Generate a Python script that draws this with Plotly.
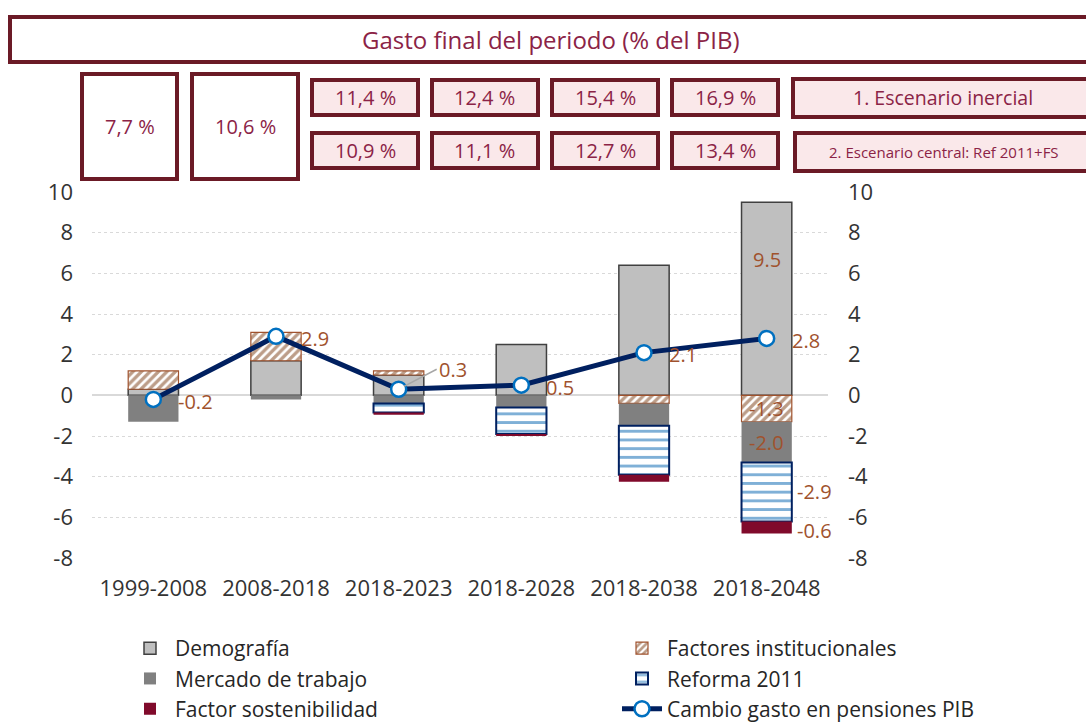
import plotly.graph_objects as go

# ---------------- data ----------------
categories = ["1999-2008", "2008-2018", "2018-2023", "2018-2028", "2018-2038", "2018-2048"]
demografia = [0.3, 1.7, 1.0, 2.5, 6.4, 9.5]
factores_inst = [0.9, 1.4, 0.2, None, -0.4, -1.3]
mercado_trabajo = [-1.3, -0.2, -0.4, -0.6, -1.1, -2.0]
reforma_2011 = [None, None, -0.45, -1.3, -2.4, -2.9]
factor_sost = [None, None, -0.1, -0.1, -0.35, -0.6]
cambio_gasto = [-0.2, 2.9, 0.3, 0.5, 2.1, 2.8]

title_text = "Gasto final del periodo (% del PIB)"
historic_values = ["7,7 %", "10,6 %"]
inercial_values = ["11,4 %", "12,4 %", "15,4 %", "16,9 %"]
central_values = ["10,9 %", "11,1 %", "12,7 %", "13,4 %"]
scenario_labels = ["1. Escenario inercial", "2. Escenario central: Ref 2011+FS"]
y_ticks = [-8, -6, -4, -2, 0, 2, 4, 6, 8, 10]
y_ticktext = [str(v) for v in y_ticks]

# ---------------- style ----------------
FONT = "Open Sans"
BROWN = "#A0522D"
NAVY = "#002060"
BLUE = "#0062B0"
MAROON = "#6B1A26"
BOXTXT = "#8B2346"
PINK = "#FAE8EA"
W, H = 1086, 722
ML, MR, MT, MB = 92, 258, 192, 164
PW, PH = W - ML - MR, H - MT - MB


def px(x):
    return (x - ML) / PW


def py(y):
    return (H - MB - y) / PH


bar_w = 0.41
fig = go.Figure()

fig.add_bar(x=categories, y=demografia, name="Demografía", width=bar_w,
            marker=dict(color="#BFBFBF", line=dict(color="#404040", width=1.5)))
fig.add_bar(x=categories, y=factores_inst, name="Factores institucionales", width=bar_w,
            marker=dict(color="white", line=dict(color=BROWN, width=1.2),
                        pattern=dict(shape="/", fgcolor="#7A3B12", bgcolor="white", size=6, solidity=0.55)))
fig.add_bar(x=categories, y=mercado_trabajo, name="Mercado de trabajo", width=bar_w,
            marker=dict(color="#808080", line=dict(width=0)))
fig.add_bar(x=categories, y=reforma_2011, name="Reforma 2011", width=bar_w,
            marker=dict(color="white", line=dict(color=NAVY, width=2),
                        pattern=dict(shape="-", fgcolor=BLUE, bgcolor="white", size=8.7, solidity=0.33)))
fig.add_bar(x=categories, y=factor_sost, name="Factor sostenibilidad", width=bar_w,
            marker=dict(color="#800A2B", line=dict(width=0)))
fig.add_scatter(x=categories, y=cambio_gasto, name="Cambio gasto en pensiones PIB",
                mode="lines+markers", line=dict(color=NAVY, width=5),
                marker=dict(size=15, color="white", line=dict(color="#0070C0", width=2.5)))
fig.add_scatter(x=categories, y=cambio_gasto, yaxis="y2", mode="none",
                showlegend=False, hoverinfo="skip")

# legend assignment: two columns
for i, tr in enumerate(fig.data[:6]):
    tr.legend = "legend" if i in (0, 2, 4) else "legend2"

lab_font = dict(family=FONT, size=20, color=BROWN)
annotations = []
# line labels
for i, (c, v) in enumerate(zip(categories, cambio_gasto)):
    if i == 2:
        annotations.append(dict(x=c, y=v, text=f"{v:.1f}", showarrow=True, arrowhead=0,
                                arrowcolor="#A6A6A6", arrowwidth=1.5, ax=38, ay=-20,
                                xanchor="left", standoff=6, font=lab_font))
    else:
        annotations.append(dict(x=c, y=v, text=f"{v:.1f}", showarrow=False, xanchor="left",
                                xshift=23, yshift=-2, font=lab_font))

# component labels on the last bar
last = categories[-1]
annotations.append(dict(x=last, y=demografia[-1], text=f"{demografia[-1]:.1f}", showarrow=False,
                        yshift=-57, font=lab_font))
neg = 0.0
for j, arr in enumerate([factores_inst, mercado_trabajo, reforma_2011, factor_sost]):
    v = arr[-1]
    mid = neg + v / 2
    neg += v
    if j < 2:
        annotations.append(dict(x=last, y=mid, text=f"{v:.1f}", showarrow=False, font=lab_font))
    else:
        annotations.append(dict(x=last, y=mid, text=f"{v:.1f}", showarrow=False, xanchor="left",
                                xshift=28, yshift=-3 if j == 3 else 0, font=lab_font))

shapes = []


def box(x0, y0, x1, y1, text, size, fill, lw=4):
    shapes.append(dict(type="rect", xref="paper", yref="paper", x0=px(x0), x1=px(x1),
                       y0=py(y1), y1=py(y0), line=dict(color=MAROON, width=lw),
                       fillcolor=fill, layer="above"))
    annotations.append(dict(xref="paper", yref="paper", x=px((x0 + x1) / 2), y=py((y0 + y1) / 2),
                            text=text, showarrow=False, xanchor="center", yanchor="middle",
                            font=dict(family=FONT, size=size, color=BOXTXT)))


box(10, 17, 1092, 62, title_text, 24, "white")
box(82, 74, 177, 179, historic_values[0], 20, "white")
box(192, 74, 298, 179, historic_values[1], 20, "white")
for k in range(4):
    x0 = 312 + 120 * k
    box(x0, 80, x0 + 106, 115, inercial_values[k], 20, PINK)
    box(x0, 133, x0 + 106, 168, central_values[k], 20, PINK)
box(793, 79, 1092, 117, scenario_labels[0], 19.5, PINK)
box(795, 133, 1092, 171, scenario_labels[1], 15, PINK)

axis_font = dict(family=FONT, size=22, color="#333333")
leg_font = dict(family=FONT, size=21, color="#262626")
fig.update_layout(
    width=W, height=H,
    margin=dict(l=ML, r=MR, t=MT, b=MB, autoexpand=False),
    paper_bgcolor="white", plot_bgcolor="white",
    barmode="relative",
    font=dict(family=FONT, color="#262626"),
    xaxis=dict(type="category", categoryorder="array", categoryarray=categories,
               tickfont=axis_font, showgrid=False, showline=False, ticks="",
               ticklabelstandoff=15, range=[-0.5, 5.5]),
    yaxis=dict(range=[-8, 10], tickvals=y_ticks, ticktext=y_ticktext, tickfont=axis_font,
               showgrid=True, gridcolor="#D9D9D9", griddash="dot", gridwidth=1, zeroline=True,
               zerolinecolor="#D9D9D9", zerolinewidth=2, showline=False, ticks="",
               ticklabelstandoff=18),
    yaxis2=dict(range=[-8, 10], tickvals=y_ticks, ticktext=y_ticktext, tickfont=axis_font,
                overlaying="y", side="right", showgrid=False, zeroline=False, showline=False,
                ticks="", ticklabelstandoff=19),
    legend=dict(x=px(125), y=py(628), xanchor="left", yanchor="top", orientation="v",
                font=leg_font, itemwidth=40, tracegroupgap=0, bgcolor="rgba(0,0,0,0)",
                traceorder="normal"),
    legend2=dict(x=px(617), y=py(628), xanchor="left", yanchor="top", orientation="v",
                 font=leg_font, itemwidth=40, tracegroupgap=0, bgcolor="rgba(0,0,0,0)",
                 traceorder="normal"),
    annotations=annotations,
    shapes=shapes,
    showlegend=True,
)

fig.write_html("out.html", config={"displayModeBar": False},
               post_script="document.body.style.margin='0';")
